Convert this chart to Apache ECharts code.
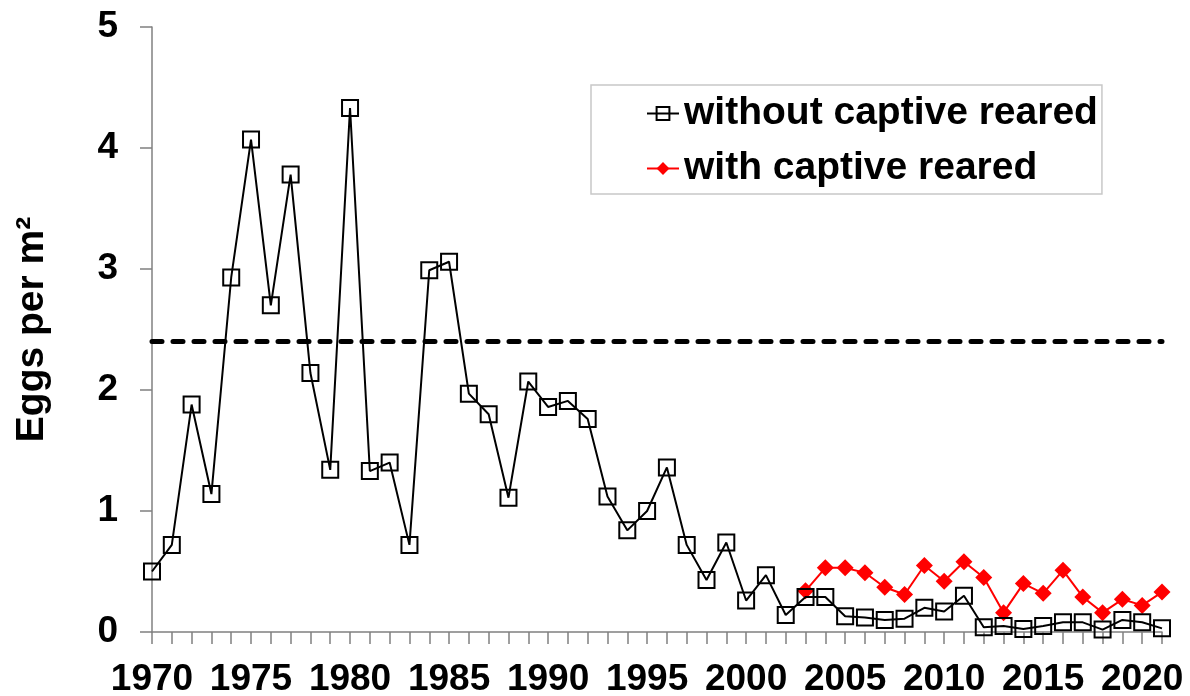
<!DOCTYPE html>
<html>
<head>
<meta charset="utf-8">
<script src="https://cdn.jsdelivr.net/npm/echarts@6/dist/echarts.min.js"></script>
<style>html,body{margin:0;padding:0;background:#fff}#chart{width:1190px;height:696px}</style>
</head>
<body>
<div id="chart"></div>
<script>
const years = ['1970','1971','1972','1973','1974','1975','1976','1977','1978','1979',
  '1980','1981','1982','1983','1984','1985','1986','1987','1988','1989',
  '1990','1991','1992','1993','1994','1995','1996','1997','1998','1999',
  '2000','2001','2002','2003','2004','2005','2006','2007','2008','2009',
  '2010','2011','2012','2013','2014','2015','2016','2017','2018','2019',
  '2020','2021'];
const withoutCaptive = [0.50,0.72,1.88,1.14,2.93,4.07,2.70,3.78,2.14,1.34,
  4.33,1.33,1.40,0.72,2.99,3.06,1.97,1.80,1.11,2.07,
  1.86,1.91,1.76,1.12,0.84,1.00,1.36,0.72,0.43,0.74,
  0.26,0.47,0.14,0.29,0.29,0.13,0.12,0.10,0.11,0.20,
  0.17,0.30,0.04,0.05,0.025,0.05,0.08,0.08,0.02,0.10,
  0.08,0.03];
const captiveYears = ['2003','2004','2005','2006','2007','2008','2009','2010','2011','2012',
  '2013','2014','2015','2016','2017','2018','2019','2020','2021'];
const withCaptive = [0.34,0.53,0.53,0.49,0.37,0.31,0.55,0.42,0.58,0.45,
  0.16,0.40,0.32,0.51,0.29,0.16,0.27,0.22,0.33];
const threshold = 2.4;
const seriesNames = ['without captive reared','with captive reared'];
const yAxisName = 'Eggs per m²';

const FONT = '"Liberation Sans", Arial, sans-serif';
const withCaptiveFull = years.map(y => {
  const i = captiveYears.indexOf(y);
  return i >= 0 ? withCaptive[i] : null;
});

const chart = echarts.init(document.getElementById('chart'), null, {renderer: 'canvas'});
chart.setOption({
  backgroundColor: '#ffffff',
  animation: false,
  grid: {left: 152, right: 28, top: 27, bottom: 64, containLabel: false, outerBoundsMode: 'none'},
  legend: {
    orient: 'vertical',
    left: 591, top: 85,
    padding: [9, 4, 6, 55],
    itemGap: 16,
    itemWidth: 32, itemHeight: 16,
    itemTextGap: 5,
    borderColor: '#c8c8c8', borderWidth: 1.5,
    backgroundColor: '#ffffff',
    textStyle: {fontFamily: FONT, fontSize: 39, fontWeight: 'bold', color: '#000'},
    data: seriesNames
  },
  xAxis: {
    type: 'category',
    data: years,
    boundaryGap: false,
    axisLine: {lineStyle: {color: '#808080', width: 1.5}},
    axisTick: {show: true, interval: 0, inside: false, length: 12, lineStyle: {color: '#808080', width: 1.5}},
    axisLabel: {interval: 4, margin: 29, fontFamily: FONT, fontSize: 37, fontWeight: 'bold', color: '#000'},
    splitLine: {show: false}
  },
  yAxis: {
    type: 'value',
    min: 0, max: 5, interval: 1,
    name: yAxisName,
    nameLocation: 'middle',
    nameGap: 100,
    nameRotate: 90,
    nameTextStyle: {fontFamily: FONT, fontSize: 39, fontWeight: 'bold', color: '#000'},
    axisLine: {show: true, lineStyle: {color: '#808080', width: 1.5}},
    axisTick: {show: true, length: 12, lineStyle: {color: '#808080', width: 1.5}},
    axisLabel: {margin: 34, fontFamily: FONT, fontSize: 37, fontWeight: 'bold', color: '#000'},
    splitLine: {show: false}
  },
  series: [
    {
      name: seriesNames[1],
      type: 'line',
      data: withCaptiveFull,
      symbol: 'diamond',
      symbolSize: 17,
      showSymbol: true,
      showAllSymbol: true,
      connectNulls: false,
      lineStyle: {color: '#ff0000', width: 2},
      itemStyle: {color: '#ff0000'},
      z: 2
    },
    {
      name: seriesNames[0],
      type: 'line',
      data: withoutCaptive,
      symbol: 'rect',
      symbolSize: 16,
      showSymbol: true,
      showAllSymbol: true,
      lineStyle: {color: '#000000', width: 2},
      itemStyle: {color: 'rgba(255,255,255,0)', borderColor: '#000000', borderWidth: 2},
      z: 3,
      markLine: {
        silent: true,
        symbol: ['none', 'none'],
        label: {show: false},
        lineStyle: {color: '#000000', width: 5, type: [10, 11], cap: 'round'},
        data: [{yAxis: threshold}]
      }
    }
  ]
});
</script>
</body>
</html>
